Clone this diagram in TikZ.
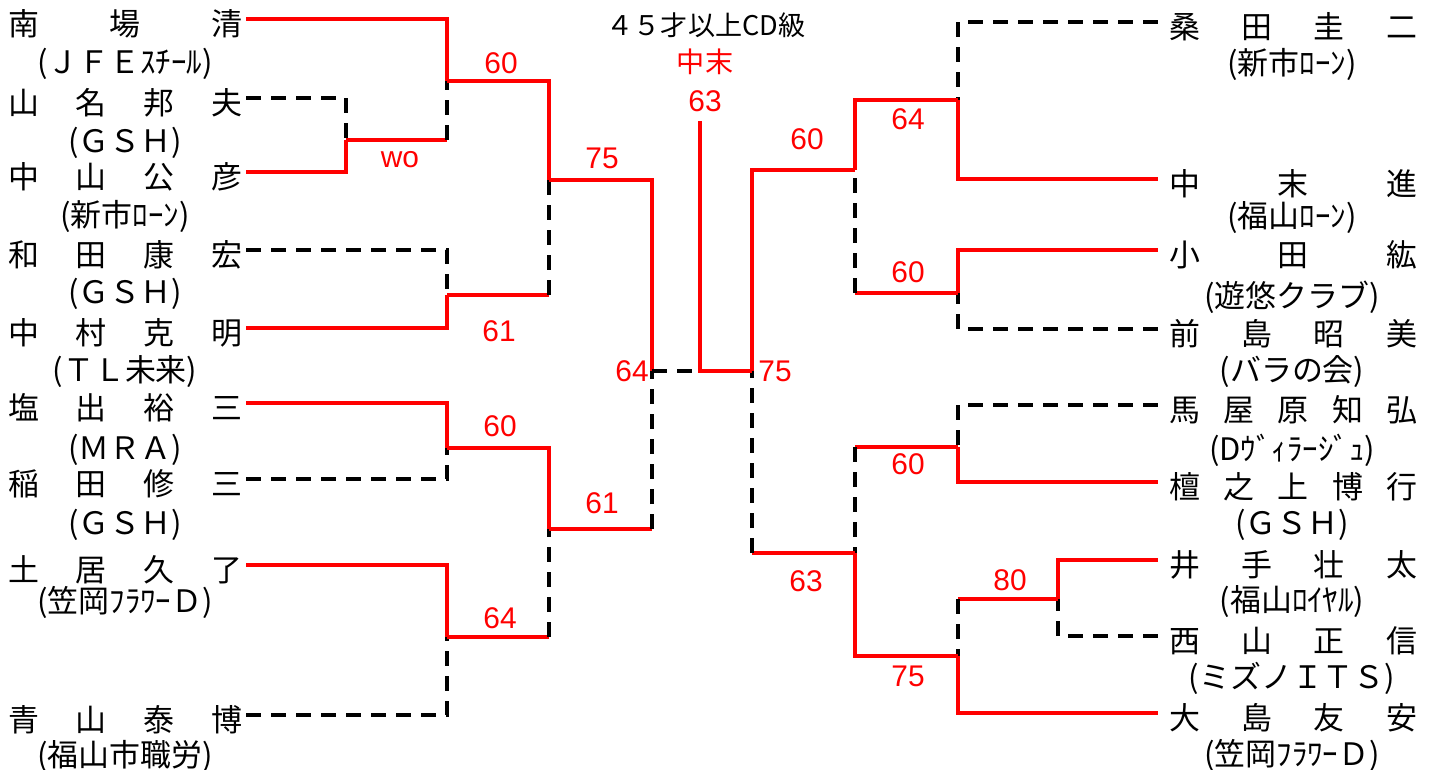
\documentclass[tikz,border=0pt]{standalone}
\usepackage{fontspec}
\usepackage{tikz}
\newfontfamily\gothic{Noto Sans CJK JP}
\newfontfamily\arialsf{Liberation Sans}
\newcommand{\lnm}[1]{\makebox[2.34cm]{#1}}
\newcommand{\rnm}[1]{\makebox[2.47cm]{#1}}

\begin{document}
\begin{tikzpicture}[x=0.01cm,y=-0.01cm,
    win/.style={draw=scorered,line width=0.9pt},
    lose/.style={draw=black,line width=1pt,dash pattern=on 0.15cm off 0.1cm},
    lname/.style={anchor=west,inner sep=0pt,outer xsep=0.04cm,text height=9.5pt,text depth=0pt,
        font=\gothic\fontsize{8.8}{10}\selectfont},
    rname/.style={lname,anchor=east,outer xsep=0.12cm},
    club/.style={inner sep=0pt,font=\gothic\fontsize{8.8}{10}\selectfont},
    score/.style={inner sep=0pt,text=scorered,font=\arialsf\fontsize{8.5}{10}\selectfont}]

	\definecolor{scorered}{RGB}{255,0,0}
	\useasboundingbox (0,0) rectangle (1434,769);

	% title
	\draw (706,25) node[club,font=\gothic\fontsize{7.7}{9}\selectfont] (title) {４５才以上CD級};
	\draw (705,62) node[club,text=scorered,font=\gothic\fontsize{8}{9}\selectfont] (champ) {中末};
	\draw (705,101) node[score] (fin) {63};

	% left side
	\draw (4,19)  node[lname] (l1) {\lnm{南\hfill 場\hfill 清}};
	\draw (4,98)  node[lname] (l2) {\lnm{山\hfill 名\hfill 邦\hfill 夫}};
	\draw (4,172) node[lname] (l3) {\lnm{中\hfill 山\hfill 公\hfill 彦}};
	\draw (4,250) node[lname] (l4) {\lnm{和\hfill 田\hfill 康\hfill 宏}};
	\draw (4,328) node[lname] (l5) {\lnm{中\hfill 村\hfill 克\hfill 明}};
	\draw (4,403) node[lname] (l6) {\lnm{塩\hfill 出\hfill 裕\hfill 三}};
	\draw (4,479) node[lname] (l7) {\lnm{稲\hfill 田\hfill 修\hfill 三}};
	\draw (4,565) node[lname] (l8) {\lnm{土\hfill 居\hfill 久\hfill 了}};
	\draw (4,715) node[lname] (l9) {\lnm{青\hfill 山\hfill 泰\hfill 博}};

	\draw (125,64)  node[club] (c1) {(ＪＦＥｽﾁｰﾙ)};
	\draw (125,143) node[club] (c2) {(ＧＳＨ)};
	\draw (125,216) node[club] (c3) {(新市ﾛｰﾝ)};
	\draw (125,294) node[club] (c4) {(ＧＳＨ)};
	\draw (125,372) node[club] (c5) {(ＴＬ未来)};
	\draw (125,450) node[club] (c6) {(ＭＲＡ)};
	\draw (125,525) node[club] (c7) {(ＧＳＨ)};
	\draw (125,602) node[club] (c8) {(笠岡ﾌﾗﾜｰＤ)};
	\draw (125,756) node[club] (c9) {(福山市職労)};

	% right side
	\draw (1429,22)  node[rname] (r1) {\rnm{桑\hfill 田\hfill 圭\hfill 二}};
	\draw (1429,179) node[rname] (r2) {\rnm{中\hfill 末\hfill 進}};
	\draw (1429,250) node[rname] (r3) {\rnm{小\hfill 田\hfill 紘}};
	\draw (1429,329) node[rname] (r4) {\rnm{前\hfill 島\hfill 昭\hfill 美}};
	\draw (1429,405) node[rname] (r5) {\rnm{馬\hfill 屋\hfill 原\hfill 知\hfill 弘}};
	\draw (1429,482) node[rname] (r6) {\rnm{檀\hfill 之\hfill 上\hfill 博\hfill 行}};
	\draw (1429,560) node[rname] (r7) {\rnm{井\hfill 手\hfill 壮\hfill 太}};
	\draw (1429,636) node[rname] (r8) {\rnm{西\hfill 山\hfill 正\hfill 信}};
	\draw (1429,713) node[rname] (r9) {\rnm{大\hfill 島\hfill 友\hfill 安}};

	\draw (1292,64)  node[club] (d1) {(新市ﾛｰﾝ)};
	\draw (1292,218) node[club] (d2) {(福山ﾛｰﾝ)};
	\draw (1292,297) node[club] (d3) {(遊悠クラブ)};
	\draw (1292,372) node[club] (d4) {(バラの会)};
	\draw (1292,450) node[club] (d5) {(Dｳﾞｨﾗｰｼﾞｭ)};
	\draw (1292,525) node[club] (d6) {(ＧＳＨ)};
	\draw (1292,602) node[club] (d7) {(福山ﾛｲﾔﾙ)};
	\draw (1292,678) node[club] (d8) {(ミズノＩＴＳ)};
	\draw (1292,755) node[club] (d9) {(笠岡ﾌﾗﾜｰＤ)};

	% match points
	\coordinate (a1) at (346,140);
	\coordinate (a2) at (447,81);
	\coordinate (a3) at (447,295);
	\coordinate (a4) at (447,448);
	\coordinate (a5) at (447,637);
	\coordinate (b1) at (549,180);
	\coordinate (b2) at (549,529);
	\coordinate (c0) at (652,371);
	\coordinate (e1) at (958,100);
	\coordinate (e2) at (958,293);
	\coordinate (e3) at (958,447);
	\coordinate (e4) at (1058,599);
	\coordinate (e5) at (958,656);
	\coordinate (f1) at (855,170);
	\coordinate (f2) at (855,553);
	\coordinate (g0) at (752,371);
	\coordinate (mid) at (700,371);
	\coordinate (top) at (700,121);

	% left bracket
	\draw[lose] (l2) -| (a1);
	\draw[win]  (l3) -| (a1);
	\draw[win]  (l1) -| (a2);
	\draw[win]  (a1) -- (a1 -| a2);
	\draw[lose] (a1 -| a2) -- (a2);
	\draw[lose] (l4) -| (a3);
	\draw[win]  (l5) -| (a3);
	\draw[win]  (l6) -| (a4);
	\draw[lose] (l7) -| (a4);
	\draw[win]  (l8) -| (a5);
	\draw[lose] (l9) -| (a5);
	\draw[win]  (a2) -| (b1);
	\draw[win]  (a3) -- (a3 -| b1);
	\draw[lose] (a3 -| b1) -- (b1);
	\draw[win]  (a4) -| (b2);
	\draw[win]  (a5) -- (a5 -| b2);
	\draw[lose] (a5 -| b2) -- (b2);
	\draw[win]  (b1) -| (c0);
	\draw[win]  (b2) -- (b2 -| c0);
	\draw[lose] (b2 -| c0) -- (c0);

	% right bracket
	\draw[lose] (r1) -| (e1);
	\draw[win]  (r2) -| (e1);
	\draw[win]  (r3) -| (e2);
	\draw[lose] (r4) -| (e2);
	\draw[lose] (r5) -| (e3);
	\draw[win]  (r6) -| (e3);
	\draw[win]  (r7) -| (e4);
	\draw[lose] (r8) -| (e4);
	\draw[win]  (r9) -| (e5);
	\draw[win]  (e4) -- (e4 -| e5);
	\draw[lose] (e4 -| e5) -- (e5);
	\draw[win]  (e1) -| (f1);
	\draw[win]  (e2) -- (e2 -| f1);
	\draw[lose] (e2 -| f1) -- (f1);
	\draw[win]  (e5) -| (f2);
	\draw[win]  (e3) -- (e3 -| f2);
	\draw[lose] (e3 -| f2) -- (f2);
	\draw[win]  (f1) -| (g0);
	\draw[win]  (f2) -- (f2 -| g0);
	\draw[lose] (f2 -| g0) -- (g0);

	% final
	\draw[lose] (c0) -- (mid);
	\draw[win]  (g0) -- (mid) -- (top);

	% scores
	\draw (400,160) node[score] (s1) {wo};
	\draw (501,63)  node[score] (s2) {60};
	\draw (499,331) node[score] (s3) {61};
	\draw (500,426) node[score] (s4) {60};
	\draw (500,618) node[score] (s5) {64};
	\draw (602,158) node[score] (s6) {75};
	\draw (602,503) node[score] (s7) {61};
	\draw (632,371) node[score] (s8) {64};
	\draw (775,371) node[score] (s9) {75};
	\draw (807,139) node[score] (s10) {60};
	\draw (908,119) node[score] (s11) {64};
	\draw (908,272) node[score] (s12) {60};
	\draw (908,464) node[score] (s13) {60};
	\draw (806,581) node[score] (s14) {63};
	\draw (908,676) node[score] (s15) {75};
	\draw (1010,580) node[score] (s16) {80};

\end{tikzpicture}
\end{document}
